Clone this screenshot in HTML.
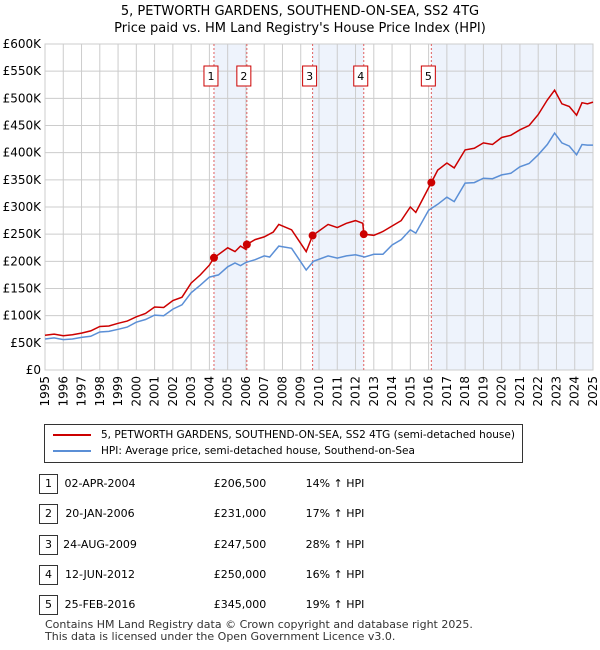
<!DOCTYPE html>
<html><head><meta charset="utf-8"><style>
body{margin:0;width:600px;height:650px;background:#fff;font-family:"DejaVu Sans","Liberation Sans",sans-serif;overflow:hidden;position:relative}
.t{position:absolute;font-size:12px;color:#000}
svg text{font-family:"DejaVu Sans","Liberation Sans",sans-serif}
</style></head><body>
<div class="t" style="left:0;width:600px;text-align:center;top:3px;font-size:13px;line-height:17px">5, PETWORTH GARDENS, SOUTHEND-ON-SEA, SS2 4TG<br>Price paid vs. HM Land Registry's House Price Index (HPI)</div>
<svg id="chart" width="600" height="420" style="position:absolute;left:0;top:0"></svg>
<div style="position:absolute;left:44px;top:424px;width:477px;height:37px;border:1px solid #333;font-size:10.5px">
<div style="position:absolute;left:8px;top:4px;white-space:nowrap"><span style="display:inline-block;width:38px;height:2px;background:#cc0000;vertical-align:middle;margin-right:10px"></span>5, PETWORTH GARDENS, SOUTHEND-ON-SEA, SS2 4TG (semi-detached house)</div>
<div style="position:absolute;left:8px;top:20px;white-space:nowrap"><span style="display:inline-block;width:38px;height:2px;background:#5b8fd6;vertical-align:middle;margin-right:10px"></span>HPI: Average price, semi-detached house, Southend-on-Sea</div>
</div>
<div id="table"></div>
<div class="t" style="left:45px;top:619px;font-size:11px;line-height:12px;color:#333">Contains HM Land Registry data © Crown copyright and database right 2025.<br>This data is licensed under the Open Government Licence v3.0.</div>
<script>
const hpiX=[1995,1995.5,1996,1996.5,1997,1997.5,1998,1998.5,1999,1999.5,2000,2000.5,2001,2001.5,2002,2002.5,2003,2003.5,2004,2004.5,2005,2005.4,2005.7,2006,2006.5,2007,2007.3,2007.8,2008.5,2009.3,2009.7,2010.5,2011,2011.5,2012,2012.5,2013,2013.5,2014,2014.5,2015,2015.3,2016,2016.5,2017,2017.4,2018,2018.5,2019,2019.5,2020,2020.5,2021,2021.5,2022,2022.5,2022.9,2023.3,2023.7,2024.1,2024.4,2024.7,2025];
const hpiV=[57,59,56,57,60,62,70,71,75,79,88,93,101,100,112,120,142,156,171,175,190,197,192,198,203,210,208,228,224,184,200,210,206,210,212,208,213,213,230,240,258,252,294,305,318,310,344,345,353,352,359,362,374,380,396,415,436,418,412,396,415,414,414];
const redX=[1995,1995.5,1996,1996.5,1997,1997.5,1998,1998.5,1999,1999.5,2000,2000.5,2001,2001.5,2002,2002.5,2003,2003.5,2004,2004.25,2005,2005.4,2005.7,2006,2006.05,2006.5,2007,2007.5,2007.8,2008.5,2009.3,2009.65,2010.5,2011,2011.5,2012,2012.4,2012.45,2013,2013.5,2014,2014.5,2015,2015.3,2016.15,2016.5,2017,2017.4,2018,2018.5,2019,2019.5,2020,2020.5,2021,2021.5,2022,2022.5,2022.9,2023.3,2023.7,2024.1,2024.4,2024.7,2025];
const redV=[64,66,63,65,68,72,80,81,86,90,98,104,116,115,128,134,160,175,193,206.5,225,218,228,222,231,240,245,254,268,258,218,247.5,268,262,270,275,270,250,248,255,265,275,300,290,345,368,381,372,405,408,418,415,428,432,442,450,470,497,515,490,485,469,492,490,493];
const saleX=[2004.25,2006.05,2009.65,2012.45,2016.15];
const saleV=[206.5,231,247.5,250,345];
const saleDates=["02-APR-2004","20-JAN-2006","24-AUG-2009","12-JUN-2012","25-FEB-2016"];
const salePrices=["£206,500","£231,000","£247,500","£250,000","£345,000"];
const salePct=["14% ↑ HPI","17% ↑ HPI","28% ↑ HPI","16% ↑ HPI","19% ↑ HPI"];
const yTicks=[0,50,100,150,200,250,300,350,400,450,500,550,600];
const yLabels=["£0","£50K","£100K","£150K","£200K","£250K","£300K","£350K","£400K","£450K","£500K","£550K","£600K"];
const xTicks=[1995,1996,1997,1998,1999,2000,2001,2002,2003,2004,2005,2006,2007,2008,2009,2010,2011,2012,2013,2014,2015,2016,2017,2018,2019,2020,2021,2022,2023,2024,2025];

const L=45,R=593,T=44,B=370;
const sx=y=>L+(y-1995)/30*(R-L);
const sy=v=>B-v/600*(B-T);
const svg=document.getElementById('chart');const NS='http://www.w3.org/2000/svg';
function mk(tag,attrs,name,parent){const e=document.createElementNS(NS,tag);for(const k in attrs)e.setAttribute(k,attrs[k]);


(parent||svg).appendChild(e);return e;}
[[0,1],[2,3],[4,null]].forEach((p,i)=>{const x1=sx(saleX[p[0]]),x2=p[1]===null?R:sx(saleX[p[1]]);
mk('rect',{x:x1,y:T,width:x2-x1,height:B-T,fill:'#eef3fc'},'shaded-period-'+(i+1));});
yTicks.forEach((v,i)=>{mk('line',{x1:L,x2:R,y1:sy(v),y2:sy(v),stroke:'#cccccc','stroke-width':1},'y-gridline');
const t=mk('text',{x:L-4,y:sy(v)+4,'text-anchor':'end','font-size':12,fill:'#000'},'y-tick-label');t.textContent=yLabels[i];});
xTicks.forEach(y=>{mk('line',{x1:sx(y),x2:sx(y),y1:T,y2:B,stroke:'#cccccc','stroke-width':1},'x-gridline');
const t=mk('text',{x:0,y:0,'text-anchor':'end','font-size':12,fill:'#000',transform:`translate(${sx(y)+4},${B+6}) rotate(-90)`},'x-tick-label');t.textContent=y;});
mk('rect',{x:L,y:T,width:R-L,height:B-T,fill:'none',stroke:'#cccccc'},'plot-border');
saleX.forEach((x,i)=>{mk('line',{x1:sx(x),x2:sx(x),y1:T,y2:B,stroke:'#e06060','stroke-width':1,'stroke-dasharray':'2,2'},'sale-marker-line-'+(i+1));
mk('rect',{x:sx(x)-10,y:66,width:14,height:20,fill:'#fff',stroke:'#cc0000'},'sale-label-box-'+(i+1));
const t=mk('text',{x:sx(x)-3,y:80,'text-anchor':'middle','font-size':11,fill:'#000'},'sale-label-'+(i+1));t.textContent=i+1;});
const pts=(xs,vs)=>xs.map((x,i)=>sx(x).toFixed(1)+','+sy(vs[i]).toFixed(1)).join(' ');
mk('polyline',{points:pts(hpiX,hpiV),fill:'none',stroke:'#5b8fd6','stroke-width':1.5},'hpi-line');
mk('polyline',{points:pts(redX,redV),fill:'none',stroke:'#cc0000','stroke-width':1.5},'property-price-line');
saleX.forEach((x,i)=>mk('circle',{cx:sx(x),cy:sy(saleV[i]),r:4,fill:'#cc0000'},'sale-point-'+(i+1)));
const tb=document.getElementById('table');
saleDates.forEach((d,i)=>{const y=474+i*30.3;
const row=document.createElement('div');


row.style.cssText=`position:absolute;left:0;top:${y}px;width:600px;height:20px;font-size:11px`;
row.innerHTML=`<div style="position:absolute;left:39px;top:0;width:17px;height:18px;border:1px solid #333;text-align:center;line-height:18px">${i+1}</div>
<div style="position:absolute;left:60px;width:80px;text-align:center;line-height:20px">${d}</div>
<div style="position:absolute;left:200px;width:80px;text-align:center;line-height:20px">${salePrices[i]}</div>
<div style="position:absolute;left:295px;width:80px;text-align:center;line-height:20px">${salePct[i]}</div>`;
tb.appendChild(row);});
</script>
</body></html>
